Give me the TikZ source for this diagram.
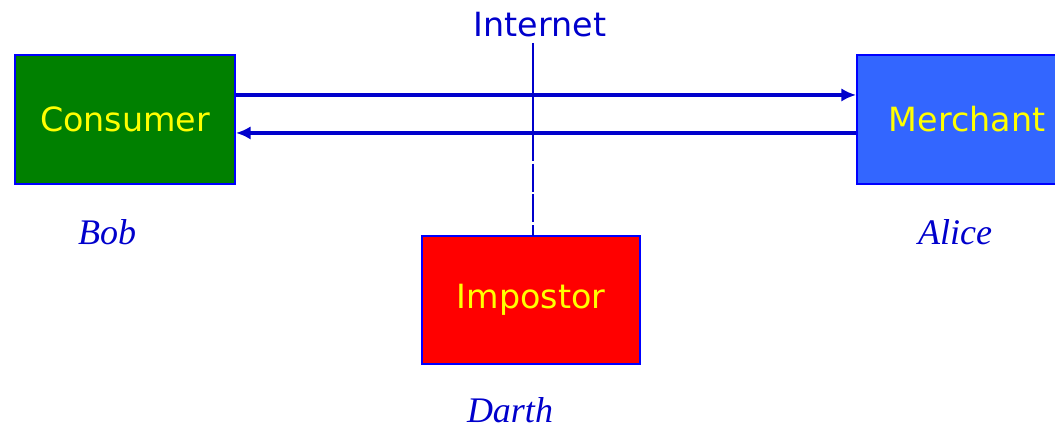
\documentclass[tikz,border=0pt]{standalone}
\usepackage{fontspec}
\setmainfont{DejaVu Sans}
\newfontfamily\namefont{Liberation Serif}
\usepackage{tikz}
\usetikzlibrary{arrows.meta}
\definecolor{netblue}{RGB}{0,0,204}
\definecolor{boxgreen}{RGB}{0,128,0}
\definecolor{boxblue}{RGB}{51,102,255}
\definecolor{boxred}{RGB}{255,0,0}
\definecolor{txtyellow}{RGB}{255,255,0}

\begin{document}
\begin{tikzpicture}[x=0.75pt, y=-0.75pt,
    party/.style={draw=blue, line width=1.4pt, minimum width=165pt, minimum height=96.5pt,
        inner sep=0pt, text=txtyellow, font=\fontsize{25}{28}\selectfont},
    who/.style={text=netblue, font=\namefont\itshape\fontsize{27}{30}\selectfont},
    msg/.style={draw=netblue, line width=2.8pt, -{Latex[length=11pt, width=10pt]}},
    wire/.style={draw=netblue, line width=1.2pt}]
    \useasboundingbox (0, 0) rectangle (1055, 431);
    % parties
    \node [party, fill=boxgreen] (con) at (125, 119.5) {Consumer};
    \node [party, fill=boxblue] (mer) at (967, 119.5) {Merchant};
    \node [party, fill=boxred, minimum width=163.5pt] (imp) at (531, 300) {Impostor};
    % names
    \node [who] (bob) at (107, 232) {Bob};
    \node [who] (alice) at (955, 232) {Alice};
    \node [who] (darth) at (510, 410) {Darth};
    % internet
    \node [text=netblue, font=\fontsize{25}{28}\selectfont] (net) at (540, 25) {Internet};
    \coordinate (top) at (533, 43);
    \coordinate (cross) at (533, 133);
    \coordinate (low) at (533, 236);
    \draw [wire] (top) to (cross);
    \draw [wire, dash pattern=on 21pt off 2pt] (cross) to (low);
    % messages
    \draw [msg] ([yshift=18.4pt]con.east) to ([yshift=18.4pt]mer.west);
    \draw [msg] ([yshift=-10.1pt]mer.west) to ([yshift=-10.1pt]con.east);
\end{tikzpicture}
\end{document}
